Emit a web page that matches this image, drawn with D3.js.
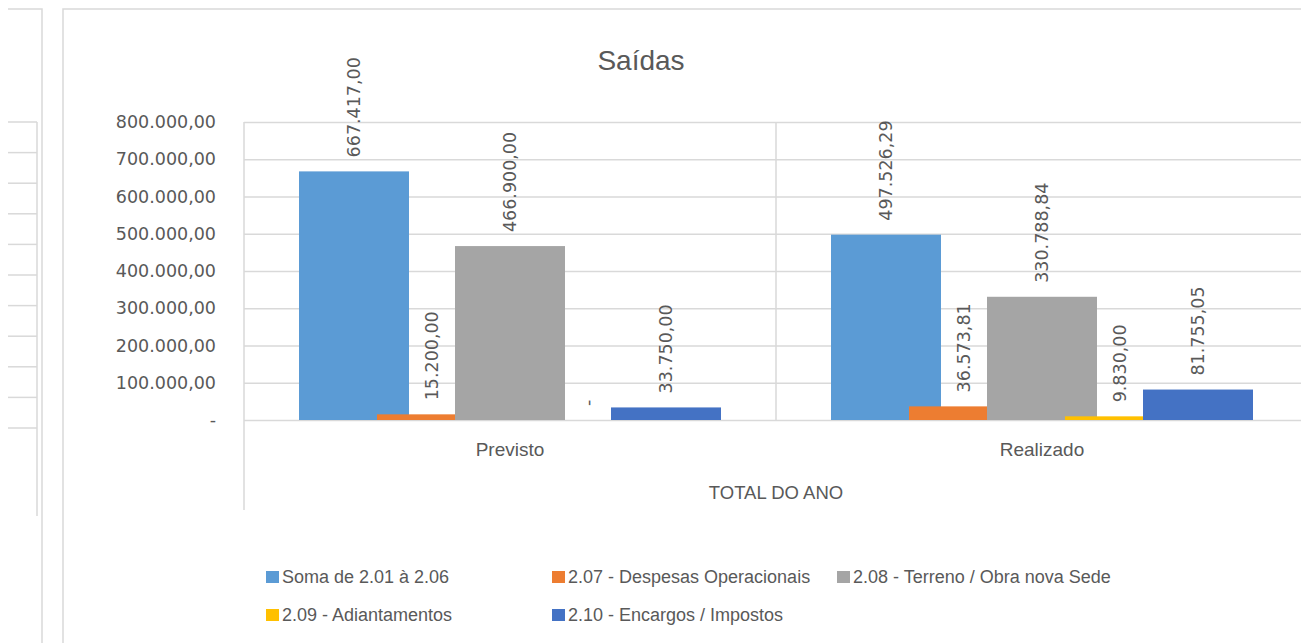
<!DOCTYPE html>
<html>
<head>
<meta charset="utf-8">
<script src="https://cdn.jsdelivr.net/npm/d3@7"></script>
<style>
  body { margin: 0; background: #fff; }
  svg { display: block; }
</style>
</head>
<body>
<script>
// chart data
const categories = ["Previsto", "Realizado"];
const seriesNames = [
  "Soma de 2.01 à 2.06",
  "2.07 - Despesas Operacionais",
  "2.08 - Terreno / Obra nova Sede",
  "2.09 - Adiantamentos",
  "2.10 - Encargos / Impostos"
];
const seriesColors = ["#5B9BD5", "#ED7D31", "#A5A5A5", "#FFC000", "#4472C4"];
// one value per category, same order as categories
const soma = [667417.00, 497526.29];
const despesas = [15200.00, 36573.81];
const terreno = [466900.00, 330788.84];
const adiantamentos = [0, 9830.00];
const encargos = [33750.00, 81755.05];
const seriesValues = [soma, despesas, terreno, adiantamentos, encargos];
const yTicks = [0, 100000, 200000, 300000, 400000, 500000, 600000, 700000, 800000];

const width = 1301, height = 643;
const textColor = "#595959", gridColor = "#d9d9d9";

const ptBR = d3.formatLocale({ decimal: ",", thousands: ".", grouping: [3], currency: ["R$", ""] });
const fmt = ptBR.format(",.2f");
const fmtVal = v => (v === 0 ? "-" : fmt(v));

const svg = d3.select("body").append("svg")
  .attr("width", width)
  .attr("height", height);

// spreadsheet frame bits around the chart
const frame = svg.append("g").attr("stroke", gridColor).attr("stroke-width", 1.5).attr("fill", "none");
frame.append("path").attr("d", "M8,9H42V643");
frame.append("path").attr("d", "M63,643V9H1301");
frame.append("path").attr("d", "M37,122V516");
d3.range(11).forEach(i => {
  const yy = 122 + i * 30.6;
  frame.append("line").attr("x1", 8).attr("x2", 37).attr("y1", yy).attr("y2", yy);
});

// scales
const plotLeft = 244, plotRight = 1308, plotTop = 122, plotBottom = 420;
const x = d3.scaleBand().domain(categories).range([plotLeft, plotRight]).padding(0);
const xs = d3.scaleBand().domain(d3.range(seriesNames.length)).range([-195, 195]).padding(0);
const barW = 110;
const y = d3.scaleLinear().domain([0, 800000]).range([plotBottom, plotTop]);

// gridlines
svg.append("g")
  .attr("transform", `translate(${plotLeft},0)`)
  .call(d3.axisLeft(y).tickValues(yTicks).tickSize(-(width - plotLeft)).tickFormat(""))
  .call(g => g.select(".domain").remove())
  .call(g => g.selectAll("line").attr("stroke", gridColor).attr("stroke-width", 1.5));

// vertical plot lines
svg.append("line").attr("x1", plotLeft).attr("x2", plotLeft).attr("y1", plotTop).attr("y2", 510)
  .attr("stroke", gridColor).attr("stroke-width", 1.5);
svg.append("line").attr("x1", x("Realizado")).attr("x2", x("Realizado")).attr("y1", plotTop).attr("y2", plotBottom)
  .attr("stroke", gridColor).attr("stroke-width", 1.5);

// y axis labels
svg.append("g")
  .attr("transform", `translate(${plotLeft},0)`)
  .call(d3.axisLeft(y).tickValues(yTicks).tickSize(0).tickPadding(28).tickFormat(fmtVal))
  .call(g => g.select(".domain").remove())
  .call(g => g.selectAll("text")
    .attr("fill", textColor)
    .attr("font-family", "DejaVu Sans")
    .attr("font-size", 17.5));

// bars, series drawn in order so later ones overlap earlier ones
const barData = [];
seriesValues.forEach((vals, si) => {
  categories.forEach((c, ci) => {
    barData.push({ s: si, cat: c, v: vals[ci] });
  });
});
const cx = d => x(d.cat) + x.bandwidth() / 2 + xs(d.s) + xs.bandwidth() / 2;

svg.append("g").selectAll("rect")
  .data(barData)
  .join("rect")
  .attr("x", d => cx(d) - barW / 2)
  .attr("y", d => y(d.v))
  .attr("width", barW)
  .attr("height", d => y(0) - y(d.v))
  .attr("fill", d => seriesColors[d.s]);

// value labels
svg.append("g").selectAll("text")
  .data(barData)
  .join("text")
  .attr("transform", d => `translate(${cx(d)},${y(d.v) - 14}) rotate(-90)`)
  .attr("dy", "0.36em")
  .attr("text-anchor", "start")
  .attr("fill", textColor)
  .attr("font-family", "DejaVu Sans")
  .attr("font-size", 17.5)
  .text(d => fmtVal(d.v));

// category labels
svg.append("g")
  .attr("transform", `translate(0,${plotBottom})`)
  .call(d3.axisBottom(x).tickSize(0).tickPadding(0))
  .call(g => g.select(".domain").remove())
  .call(g => g.selectAll("text")
    .attr("y", 36).attr("dy", 0)
    .attr("fill", textColor)
    .attr("font-family", "Liberation Sans")
    .attr("font-size", 19));

svg.append("text")
  .attr("x", x("Realizado")).attr("y", 499)
  .attr("text-anchor", "middle")
  .attr("fill", textColor)
  .attr("font-family", "Liberation Sans")
  .attr("font-size", 18.5)
  .text("TOTAL DO ANO");

// title
svg.append("text")
  .attr("x", 641).attr("y", 70)
  .attr("text-anchor", "middle")
  .attr("fill", textColor)
  .attr("font-family", "Liberation Sans")
  .attr("font-size", 28)
  .text("Saídas");

// legend
const legendPos = [[266, 577], [552, 577], [837, 577], [266, 615], [552, 615]];
const legend = svg.append("g").selectAll("g")
  .data(seriesNames)
  .join("g")
  .attr("transform", (d, i) => `translate(${legendPos[i][0]},${legendPos[i][1]})`);
legend.append("rect")
  .attr("x", 0).attr("y", -6).attr("width", 13).attr("height", 12)
  .attr("fill", (d, i) => seriesColors[i]);
legend.append("text")
  .attr("x", 16).attr("dy", "0.35em")
  .attr("fill", textColor)
  .attr("font-family", "Liberation Sans")
  .attr("font-size", 18)
  .text(d => d);
</script>
</body>
</html>
